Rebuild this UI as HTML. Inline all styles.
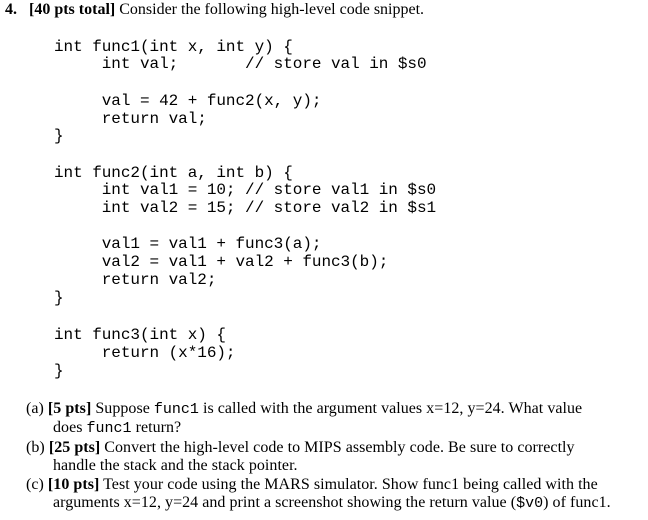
<!DOCTYPE html>
<html><head><style>
body{margin:0;width:648px;height:520px;background:#fff;position:relative;overflow:hidden;color:#000}
.l{position:absolute;white-space:pre;line-height:18px;height:18px}
.c{font-family:"Liberation Mono",monospace;font-size:16px;left:54px;letter-spacing:-0.05px}
.t{font-family:"Liberation Serif",serif;font-size:16px}
.p{letter-spacing:0.04px}
.t code{font-family:"Liberation Mono",monospace;font-size:15px;letter-spacing:0}
</style></head><body>
<div class="l t" style="left:5px;top:1px"><b>4.&nbsp;&nbsp; [40 pts total]</b> Consider the following high-level code snippet.</div>
<div class="l c" style="top:38px">int func1(int x, int y) {</div>
<div class="l c" style="top:55px">     int val;       // store val in $s0</div>
<div class="l c" style="top:92px">     val = 42 + func2(x, y);</div>
<div class="l c" style="top:110px">     return val;</div>
<div class="l c" style="top:127px">}</div>
<div class="l c" style="top:164px">int func2(int a, int b) {</div>
<div class="l c" style="top:181px">     int val1 = 10; // store val1 in $s0</div>
<div class="l c" style="top:199px">     int val2 = 15; // store val2 in $s1</div>
<div class="l c" style="top:235px">     val1 = val1 + func3(a);</div>
<div class="l c" style="top:253px">     val2 = val1 + val2 + func3(b);</div>
<div class="l c" style="top:271px">     return val2;</div>
<div class="l c" style="top:289px">}</div>
<div class="l c" style="top:326px">int func3(int x) {</div>
<div class="l c" style="top:344px">     return (x*16);</div>
<div class="l c" style="top:362px">}</div>
<div class="l t p" style="left:26px;top:400px">(a) <b>[5 pts]</b> Suppose <code>func1</code> is called with the argument values x=12, y=24. What value</div>
<div class="l t p" style="left:53px;top:419px">does <code>func1</code> return?</div>
<div class="l t p" style="left:26px;top:439px">(b) <b>[25 pts]</b> Convert the high-level code to MIPS assembly code. Be sure to correctly</div>
<div class="l t p" style="left:53px;top:457px">handle the stack and the stack pointer.</div>
<div class="l t p" style="left:26px;top:476px">(c) <b>[10 pts]</b> Test your code using the MARS simulator. Show func1 being called with the</div>
<div class="l t p" style="left:53px;top:494px">arguments x=12, y=24 and print a screenshot showing the return value (<code>$v0</code>) of func1.</div>
</body></html>
